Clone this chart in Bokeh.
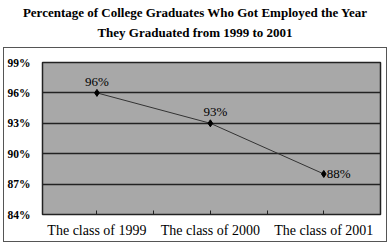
from bokeh.plotting import figure
from bokeh.embed import file_html
from bokeh.resources import INLINE
from bokeh.models import Label, FixedTicker, ColumnDataSource, Range1d, Div
from bokeh.layouts import column

title_lines = ["Percentage of College Graduates Who Got Employed the Year",
               "They Graduated from 1999 to 2001"]
classes = ["The class of 1999", "The class of 2000", "The class of 2001"]
employed = [96, 93, 88]
y_ticks = [84, 87, 90, 93, 96, 99]
pct_labels = [f"{v}%" for v in employed]

xs = list(range(len(classes)))
src = ColumnDataSource(dict(x=xs, y=employed, lab=pct_labels))

title = Div(text="<br>".join(title_lines), width=390, height=44, margin=(3, 0, 0, 0),
            styles={"font-family": "Liberation Serif", "font-weight": "bold",
                    "font-size": "13px", "line-height": "20px", "text-align": "center",
                    "width": "390px", "color": "black"})

p = figure(width=384, height=195, output_backend="svg", toolbar_location=None,
           x_range=Range1d(-0.48, 2.5), y_range=Range1d(84, 99),
           min_border_left=34, min_border_right=8, min_border_top=14, min_border_bottom=29,
           margin=(0, 0, 0, 3))
p.styles = {"border": "1px solid #555555", "box-sizing": "border-box"}
p.background_fill_color = "#a8a8a8"
p.border_fill_color = "white"
p.outline_line_color = "#222222"
p.outline_line_width = 1.5

p.yaxis.ticker = FixedTicker(ticks=y_ticks)
p.yaxis.major_label_overrides = {t: f"{t}%" for t in y_ticks}
p.yaxis.axis_line_color = None
p.yaxis.major_tick_line_color = None
p.yaxis.minor_tick_line_color = None
p.yaxis.major_label_text_font = "Liberation Serif"
p.yaxis.major_label_text_font_style = "bold"
p.yaxis.major_label_text_font_size = "11.5px"
p.yaxis.major_label_text_color = "black"
p.yaxis.major_label_standoff = 6

x_ticks = [0, 0.5, 1, 1.5, 2]
p.xaxis.ticker = FixedTicker(ticks=x_ticks)
overrides = {0.5: "", 1.5: ""}
for i, c in enumerate(classes):
    overrides[i] = c
p.xaxis.major_label_overrides = overrides
p.xaxis.axis_line_color = None
p.xaxis.major_tick_in = 4
p.xaxis.major_tick_out = 0
p.xaxis.major_tick_line_color = "#222222"
p.xaxis.minor_tick_line_color = None
p.xaxis.major_label_text_font = "Liberation Serif"
p.xaxis.major_label_text_font_size = "14px"
p.xaxis.major_label_text_color = "black"
p.xaxis.major_label_standoff = 8

p.xgrid.grid_line_color = None
p.ygrid.ticker = FixedTicker(ticks=y_ticks)
p.ygrid.grid_line_color = "#222222"
p.ygrid.grid_line_width = 1.5

p.line("x", "y", source=src, line_color="#333333", line_width=1)
p.scatter("x", "y", source=src, marker="diamond", size=7, color="black")

offsets = [(0, 4, "center", "bottom"), (5, 4, "center", "bottom"), (3, 0, "left", "middle")]
for i, (dx, dy, al, bl) in enumerate(offsets):
    p.add_layout(Label(x=xs[i], y=employed[i], text=pct_labels[i], x_offset=dx, y_offset=dy,
                       text_align=al, text_baseline=bl, text_font="Liberation Serif",
                       text_font_size="13px", text_color="black"))

layout = column(title, p, spacing=0)
open("out.html", "w").write(file_html(layout, INLINE))
